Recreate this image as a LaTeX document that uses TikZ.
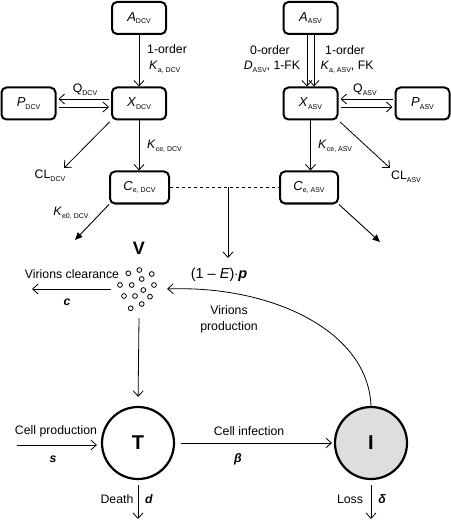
\documentclass[tikz,border=0pt]{standalone}
\usepackage{fontspec}
\setmainfont{Liberation Sans}
\usetikzlibrary{arrows.meta}
\definecolor{igray}{RGB}{222,222,222}
\newcommand\sbx[1]{\raisebox{-0.4ex}{\fontsize{7}{8}\selectfont #1}}
\begin{document}
\begin{tikzpicture}[x=1pt,y=-1pt,
  font=\fontsize{12.3}{14}\selectfont,
  box/.style={draw, line width=2pt, rounded corners=5pt, minimum width=54pt, minimum height=32pt, inner sep=0pt, font=\fontsize{13}{14}\selectfont},
  conn/.style={line width=0.8pt, -{Straight Barb[length=5.5pt,width=10pt]}},
  fillarr/.style={line width=0.9pt, -{Triangle[length=7.5pt,width=6.5pt]}},
  cell/.style={circle, draw, line width=2.2pt, minimum size=72pt, inner sep=0pt, font=\fontsize{20}{22}\selectfont\bfseries},
  lbl/.style={inner sep=0pt},
  dot/.style={circle, draw, line width=0.8pt, minimum size=4.8pt, inner sep=0pt}]
\useasboundingbox (0,0) rectangle (450,521);

% PK boxes
\node[box] (AD) at (139,18) {\textit{A}\sbx{DCV}};
\node[box] (XD) at (139,103.5) {\textit{X}\sbx{DCV}};
\node[box] (PD) at (28.5,103.5) {\textit{P}\sbx{DCV}};
\node[box, minimum width=59pt] (CD) at (139.5,187.5) {\textit{C}\sbx{e, DCV}};
\node[box] (AA) at (310.5,18) {\textit{A}\sbx{ASV}};
\node[box] (XA) at (310.5,103.5) {\textit{X}\sbx{ASV}};
\node[box] (PA) at (422.5,103.5) {\textit{P}\sbx{ASV}};
\node[box, minimum width=58pt] (CA) at (309,187.5) {\textit{C}\sbx{e, ASV}};

% free ends
\coordinate (cld) at (64,168);
\coordinate (cla) at (390,168);
\coordinate (ked) at (75,240);
\coordinate (kea) at (380,242);
\coordinate (mid) at (228,187.5);
\coordinate (pe) at (228,258);
\coordinate (vcl) at (32,289);
\coordinate (cps) at (17,445);
\coordinate (dth) at (138,519);
\coordinate (lss) at (371,519);

% DCV connectors
\draw[conn] (AD) -- (XD);
\draw[conn, shorten <=2pt, shorten >=2pt] ([yshift=4.5pt]XD.west) -- ([yshift=4.5pt]PD.east);
\draw[conn, shorten <=2pt, shorten >=2pt] ([yshift=-3.5pt]PD.east) -- ([yshift=-3.5pt]XD.west);
\draw[conn, shorten <=2pt] (XD.south west) -- (cld);
\draw[conn] (XD) -- (XD |- CD.north);
\draw[fillarr] (CD.south west) -- (ked);

% ASV connectors
\draw[conn] ([xshift=-3.5pt]AA.south) -- ([xshift=-3.5pt]XA.north);
\draw[conn] ([xshift=3.5pt]AA.south) -- ([xshift=3.5pt]XA.north);
\draw[conn, shorten <=2pt, shorten >=2pt] ([yshift=4.5pt]PA.west) -- ([yshift=4.5pt]XA.east);
\draw[conn, shorten <=2pt, shorten >=2pt] ([yshift=-3.5pt]XA.east) -- ([yshift=-3.5pt]PA.west);
\draw[conn, shorten <=2pt] (XA.south east) -- (cla);
\draw[conn] (XA.south) -- (XA.south |- CA.north);
\draw[fillarr] (CA.south east) -- (kea);

% effect link
\draw[line width=0.8pt, dashed] (CD.east) -- (CA.west);
\draw[conn] (mid) -- (pe);

% PK labels
\node[lbl, anchor=west] (l1o) at (147,49) {1-order};
\node[lbl, anchor=west] (lka) at (149,67) {\textit{K}\sbx{a, DCV}};
\node[lbl] (lqd) at (85,90) {Q\sbx{DCV}};
\node[lbl] (lcld) at (50,176) {CL\sbx{DCV}};
\node[lbl, anchor=west] (lkced) at (147,146) {\textit{K}\sbx{ce, DCV}};
\node[lbl] (lke0d) at (71,213) {\textit{K}\sbx{e0, DCV}};
\node[lbl] (l0o) at (270,50) {0-order};
\node[lbl] (lda) at (272,67) {\textit{D}\sbx{ASV}, 1-FK};
\node[lbl] (l1oa) at (345,50) {1-order};
\node[lbl] (lkaa) at (347,67) {\textit{K}\sbx{a, ASV}, FK};
\node[lbl] (lqa) at (365,90) {Q\sbx{ASV}};
\node[lbl, anchor=west] (lkcea) at (318,146) {\textit{K}\sbx{ce, ASV}};
\node[lbl] (lcla) at (406,177) {CL\sbx{ASV}};
\node[lbl, font=\fontsize{14.5}{16}\selectfont] (lep) at (219,275) {(1 -- \textit{E})$\cdot$\textbf{\textit{p}}};

% Virions
\node[lbl, font=\fontsize{18}{20}\selectfont\bfseries] (lv) at (139,248) {V};
\node[minimum width=56pt, minimum height=58pt, inner sep=0pt] (Vc) at (139,289) {};
\foreach \i/\px/\py in {1/128.3/273.3, 2/139.3/270, 3/151.7/274, 4/141.7/279, 5/120/285, 6/131.7/285, 7/143.3/290, 8/154/285, 9/124/296, 10/135/296, 11/150/296.7, 12/130.7/308.3, 13/141.7/304}
  \node[dot] (d\i) at (\px,\py) {};
\draw[conn] (Vc.west) -- (vcl);
\node[lbl] (lvc) at (72,274) {Virions clearance};
\node[lbl, font=\fontsize{12.3}{14}\selectfont\bfseries\itshape] (lc) at (67,302) {c};

% cells
\node[cell] (T) at (138,443) {T};
\node[cell, fill=igray] (I) at (371,443) {I};
\draw[conn, shorten >=9pt] (Vc.south) -- (T.north);
\draw[conn, shorten >=4pt] (cps) -- (cps -| T.west);
\draw[conn, shorten <=6pt, shorten >=2pt] (T.east) -- (I.west);
\draw[conn, shorten <=5pt] (T.south) -- (dth);
\draw[conn, shorten <=5pt] (I.south) -- (lss);
\draw[conn] (I.north) .. controls (368,330) and (270,285) .. (Vc.east);

\node[lbl] (lcp) at (56,431) {Cell production};
\node[lbl, font=\fontsize{12.3}{14}\selectfont\bfseries\itshape] (ls) at (53,459) {s};
\node[lbl] (lci) at (249,431) {Cell infection};
\node[lbl, font=\fontsize{12.3}{14}\selectfont\bfseries\itshape] (lb) at (238,459) {β};
\node[lbl] (ldeath) at (117,499) {Death};
\node[lbl, font=\fontsize{12.3}{14}\selectfont\bfseries\itshape] (ld) at (149,499) {d};
\node[lbl] (lloss) at (350,499) {Loss};
\node[lbl, font=\fontsize{12.3}{14}\selectfont\bfseries\itshape] (ldel) at (382,499) {δ};
\node[lbl, align=center, font=\fontsize{12.3}{16}\selectfont] (lvp) at (229,319) {Virions\\production};
\end{tikzpicture}
\end{document}
